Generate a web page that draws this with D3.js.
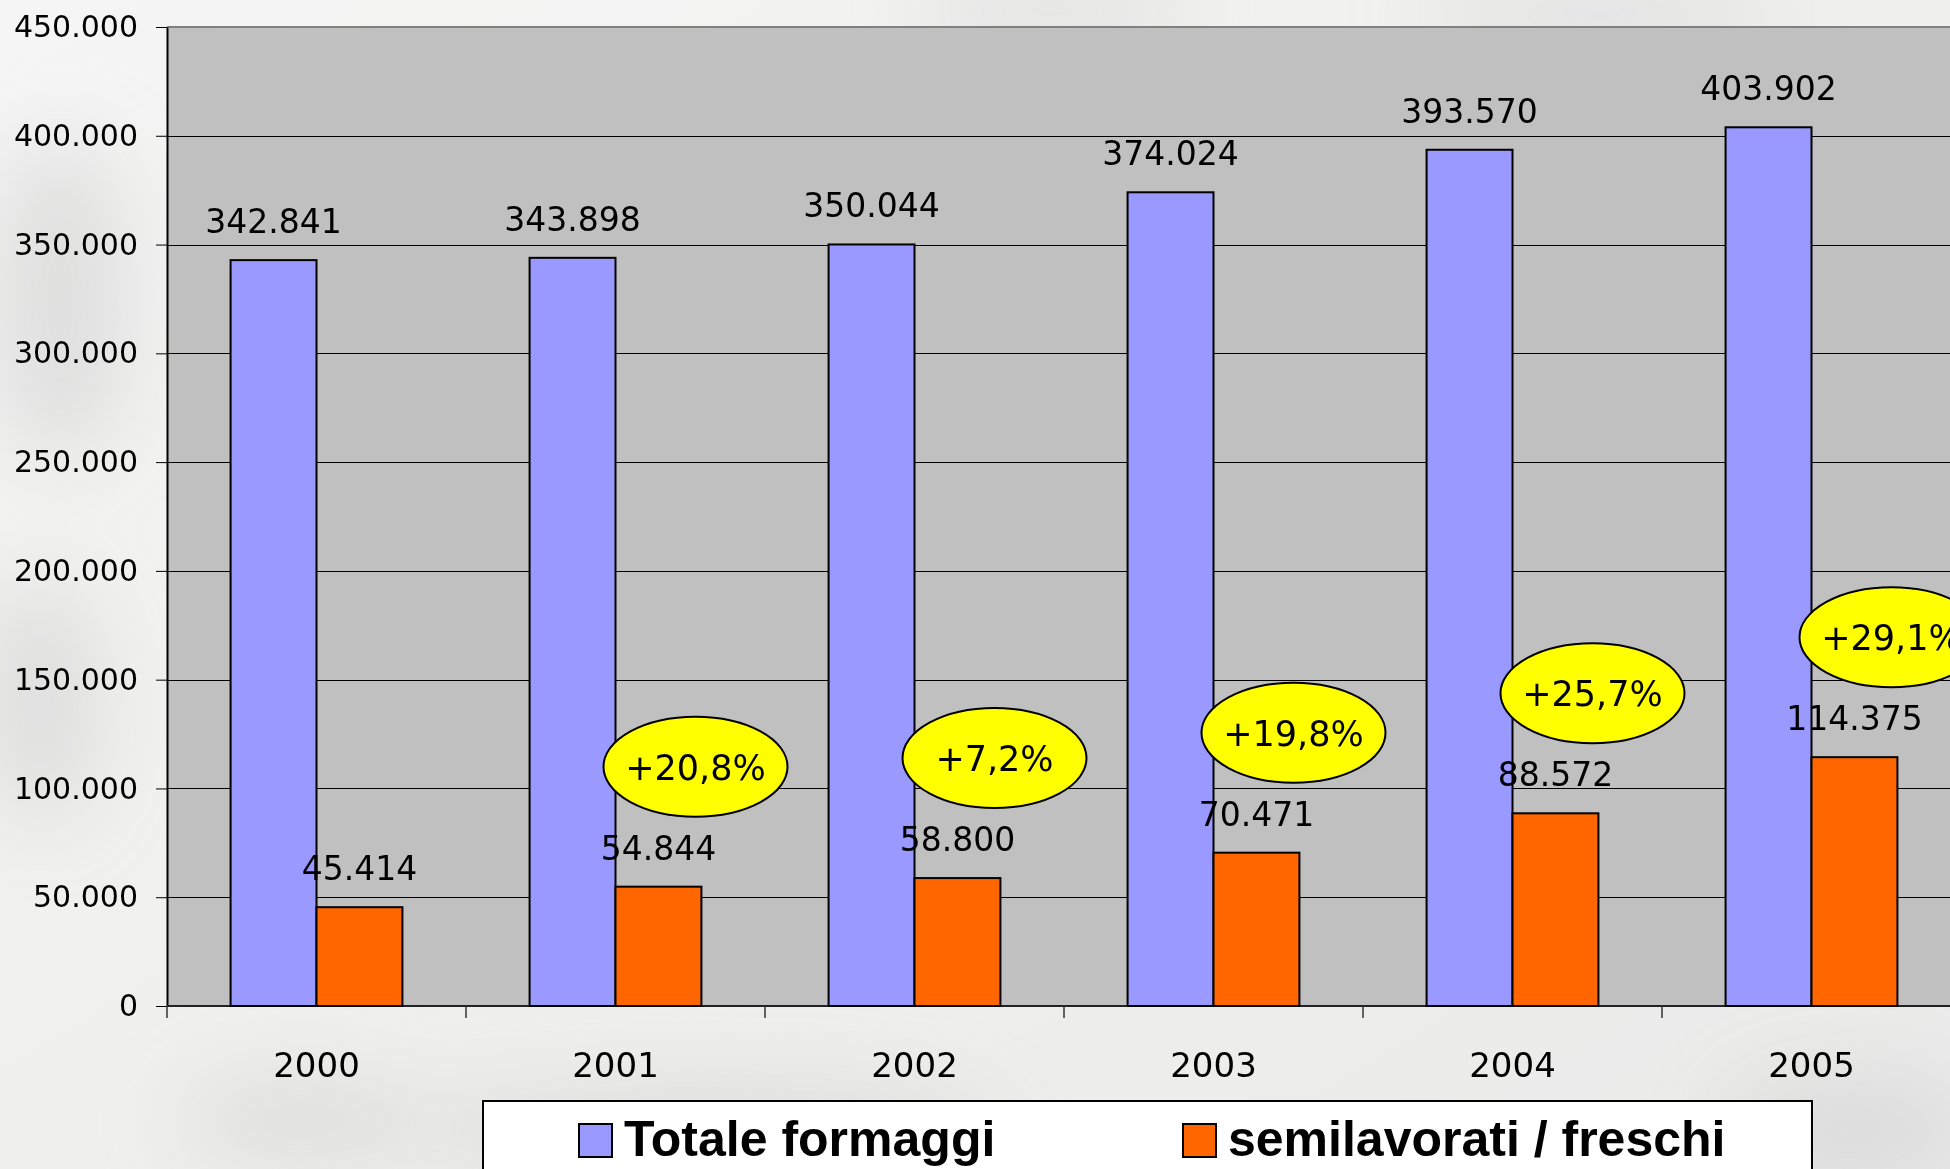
<!DOCTYPE html>
<html>
<head>
<meta charset="utf-8">
<script src="https://cdn.jsdelivr.net/npm/d3@7"></script>
<style>
	body { margin: 0; overflow: hidden; background: #f2f2f0; }
	svg { display: block; }
</style>
</head>
<body>
<div id="chart"></div>
<script>
var years = ["2000", "2001", "2002", "2003", "2004", "2005"];
var totaleFormaggi = [342841, 343898, 350044, 374024, 393570, 403902];
var semilavorati = [45414, 54844, 58800, 70471, 88572, 114375];
var growthLabels = [null, "+20,8%", "+7,2%", "+19,8%", "+25,7%", "+29,1%"];
var yTicks = [0, 50000, 100000, 150000, 200000, 250000, 300000, 350000, 400000, 450000];
var seriesNames = ["Totale formaggi", "semilavorati / freschi"];
var seriesColors = ["#9999ff", "#ff6600"];

var conf = {
	width: 1950, height: 1169,
	left: 167, top: 27, bottom: 1006, step: 299
};

var it = d3.formatLocale({ decimal: ",", thousands: ".", grouping: [3], currency: ["", ""] });
var fmt = it.format(",d");

var rows = years.map(function(y, i) {
	return { year: y, values: [totaleFormaggi[i], semilavorati[i]], growth: growthLabels[i] };
});

var $svg = d3.select("#chart").append("svg")
	.attr("width", conf.width)
	.attr("height", conf.height);

// faded photo-like background
var defs = $svg.append("defs");
defs.append("filter").attr("id", "blur")
	.attr("x", "-50%").attr("y", "-50%").attr("width", "200%").attr("height", "200%")
	.append("feGaussianBlur").attr("stdDeviation", 40);
var grad = defs.append("linearGradient").attr("id", "bg").attr("x1", 0).attr("y1", 0).attr("x2", 1).attr("y2", 1);
grad.append("stop").attr("offset", "0%").attr("stop-color", "#f4f5f4");
grad.append("stop").attr("offset", "60%").attr("stop-color", "#efefed");
grad.append("stop").attr("offset", "100%").attr("stop-color", "#eaeaea");
$svg.append("rect").attr("width", conf.width).attr("height", conf.height).attr("fill", "url(#bg)");
var blobs = [[60, 300, 70, 160], [40, 700, 60, 120], [1050, 10, 140, 30], [1600, 15, 180, 30], [700, 1130, 300, 40], [1850, 1130, 120, 50], [300, 1120, 120, 40]];
$svg.append("g").attr("filter", "url(#blur)").selectAll("ellipse").data(blobs).enter()
	.append("ellipse")
	.attr("cx", function(d) { return d[0]; })
	.attr("cy", function(d) { return d[1]; })
	.attr("rx", function(d) { return d[2]; })
	.attr("ry", function(d) { return d[3]; })
	.attr("fill", "#c8c8c8")
	.attr("opacity", 0.45);

var x0 = d3.scaleBand()
	.domain(years)
	.range([conf.left, conf.left + conf.step * years.length])
	.paddingInner(0).paddingOuter(0);

var x1 = d3.scaleBand()
	.domain([0, 1])
	.range([0, x0.bandwidth()])
	.paddingInner(0).paddingOuter(0.74);

var y = d3.scaleLinear()
	.domain([0, 450000])
	.range([conf.bottom, conf.top]);

// plot area
$svg.append("rect")
	.attr("x", conf.left)
	.attr("y", conf.top)
	.attr("width", x0.range()[1] - conf.left)
	.attr("height", conf.bottom - conf.top)
	.attr("fill", "#c0c0c0");
$svg.append("line")
	.attr("x1", conf.left).attr("x2", conf.width)
	.attr("y1", conf.top).attr("y2", conf.top)
	.attr("stroke", "#808080").attr("stroke-width", 2);

$svg.append("g").selectAll("line.grid").data(yTicks.slice(1, -1)).enter()
	.append("line")
	.attr("class", "grid")
	.attr("x1", conf.left).attr("x2", conf.width)
	.attr("y1", function(d) { return Math.round(y(d)) + 0.5; })
	.attr("y2", function(d) { return Math.round(y(d)) + 0.5; })
	.attr("stroke", "#000").attr("stroke-width", 1);

// y axis
var yAxis = d3.axisLeft(y).tickValues(yTicks).tickFormat(fmt).tickSizeInner(11).tickSizeOuter(0).tickPadding(18);
var $ya = $svg.append("g").attr("transform", "translate(" + conf.left + ",0)").call(yAxis);
$ya.select(".domain").attr("stroke", "#000").attr("stroke-width", 2);
$ya.selectAll(".tick line").attr("stroke", "#000");
$ya.selectAll("text")
	.attr("font-family", "'DejaVu Sans', Verdana, sans-serif")
	.attr("font-size", 30)
	.attr("fill", "#000");

// x axis
var $xa = $svg.append("g").attr("transform", "translate(0," + conf.bottom + ")");
$xa.append("line")
	.attr("x1", conf.left).attr("x2", conf.width)
	.attr("stroke", "#222").attr("stroke-width", 2);
$xa.selectAll("line.tick").data(years).enter()
	.append("line")
	.attr("class", "tick")
	.attr("x1", function(d) { return x0(d); })
	.attr("x2", function(d) { return x0(d); })
	.attr("y1", 0).attr("y2", 12)
	.attr("stroke", "#333").attr("stroke-width", 1.5);
$xa.selectAll("text").data(years).enter()
	.append("text")
	.attr("x", function(d) { return x0(d) + x0.bandwidth() / 2; })
	.attr("y", 71)
	.attr("text-anchor", "middle")
	.attr("font-family", "'DejaVu Sans', Verdana, sans-serif")
	.attr("font-size", 34)
	.text(function(d) { return d; });

// bars
var $groups = $svg.append("g").selectAll("g.year").data(rows).enter()
	.append("g")
	.attr("class", "year")
	.attr("transform", function(d) { return "translate(" + x0(d.year) + ",0)"; });

$groups.selectAll("rect").data(function(d) { return d.values; }).enter()
	.append("rect")
	.attr("x", function(d, i) { return x1(i); })
	.attr("y", function(d) { return y(d); })
	.attr("width", x1.bandwidth())
	.attr("height", function(d) { return conf.bottom - y(d); })
	.attr("fill", function(d, i) { return seriesColors[i]; })
	.attr("stroke", "#000")
	.attr("stroke-width", 2);

$groups.selectAll("text.val").data(function(d) { return d.values; }).enter()
	.append("text")
	.attr("class", "val")
	.attr("x", function(d, i) { return x1(i) + x1.bandwidth() / 2; })
	.attr("y", function(d) { return y(d) - 27; })
	.attr("text-anchor", "middle")
	.attr("font-family", "'DejaVu Sans', Verdana, sans-serif")
	.attr("font-size", 33)
	.attr("fill", "#000")
	.text(function(d) { return fmt(d); });

// growth bubbles
var $bub = $svg.append("g").selectAll("g.bubble").data(rows.filter(function(d) { return d.growth; })).enter()
	.append("g")
	.attr("class", "bubble")
	.attr("transform", function(d) {
		return "translate(" + (x0(d.year) + x0.bandwidth() / 2 + 80) + "," + (y(d.values[1]) - 120) + ")";
	});
$bub.append("ellipse")
	.attr("rx", 92).attr("ry", 50)
	.attr("fill", "#ffff00")
	.attr("stroke", "#000").attr("stroke-width", 2);
$bub.append("text")
	.attr("y", 13)
	.attr("text-anchor", "middle")
	.attr("font-family", "'DejaVu Sans', Verdana, sans-serif")
	.attr("font-size", 35)
	.text(function(d) { return d.growth; });

// legend
var legend = { x: 483, y: 1101, width: 1329, itemX: [96, 700] };
var $leg = $svg.append("g").attr("transform", "translate(" + legend.x + "," + legend.y + ")");
$leg.append("rect")
	.attr("width", legend.width).attr("height", 120)
	.attr("fill", "#fff").attr("stroke", "#000").attr("stroke-width", 2);
var $items = $leg.selectAll("g.item").data(seriesNames).enter()
	.append("g")
	.attr("class", "item")
	.attr("transform", function(d, i) { return "translate(" + legend.itemX[i] + ",0)"; });
$items.append("rect")
	.attr("y", 23).attr("width", 33).attr("height", 33)
	.attr("fill", function(d, i) { return seriesColors[i]; })
	.attr("stroke", "#000").attr("stroke-width", 2);
$items.append("text")
	.attr("x", 45).attr("y", 55)
	.attr("font-family", "'Liberation Sans', Arial, sans-serif")
	.attr("font-weight", "bold")
	.attr("font-size", 50)
	.text(function(d) { return d; });
</script>
</body>
</html>
